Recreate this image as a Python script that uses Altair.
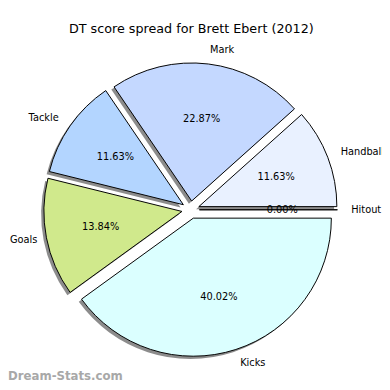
import altair as alt
import pandas as pd

categories = ["Hitout", "Handball", "Mark", "Tackle", "Goals", "Kicks"]
percentages = [0.00, 11.63, 22.87, 11.63, 13.84, 40.02]
colors = ["#f4f4f4", "#e9f1ff", "#c4d8ff", "#b3d5ff", "#d0e98c", "#dbffff"]
title_text = "DT score spread for Brett Ebert (2012)"
watermark = "Dream-Stats.com"

# layout constants (plot-area pixels)
CX, CY, R, D = 186.5, 202.0, 141.0, 9.0
SHX, SHY = -2.8, 2.8
FONT = "DejaVu Sans"

df = pd.DataFrame({"category": categories, "value": percentages,
                   "order": list(range(len(categories)))})

base = (
    alt.Chart(df)
    .transform_window(cum="sum(value)", sort=[{"field": "order"}], frame=[None, 0])
    .transform_joinaggregate(total="sum(value)")
    .transform_calculate(a0="2*PI*(datum.cum - datum.value)/datum.total")
    .transform_calculate(a1="2*PI*datum.cum/datum.total")
    .transform_calculate(mid="(datum.a0 + datum.a1)/2")
    .transform_calculate(t1="2.5*PI - datum.a1")
    .transform_calculate(t2="2.5*PI - datum.a0")
    .transform_calculate(ex=f"{CX} + {D}*cos(datum.mid)")
    .transform_calculate(ey=f"{CY} - {D}*sin(datum.mid)")
    .transform_calculate(sx=f"datum.ex + {SHX}")
    .transform_calculate(sy=f"datum.ey + {SHY}")
    .transform_calculate(lx=f"datum.ex + {1.1 * R}*cos(datum.mid)")
    .transform_calculate(ly=f"datum.ey - {1.1 * R}*sin(datum.mid)")
    .transform_calculate(lxl="max(datum.lx, 30)")
    .transform_calculate(px=f"datum.ex + {0.6 * R}*cos(datum.mid)")
    .transform_calculate(py=f"datum.ey - {0.6 * R}*sin(datum.mid)")
    .transform_calculate(pct="format(datum.value, '.2f') + '%'")
    .transform_calculate(side="cos(datum.mid) >= 0 ? 'r' : 'l'")
)

shadow = base.mark_arc(radius=R, fill="#000000", fillOpacity=0.45, strokeWidth=0).encode(
    x=alt.X("sx:Q", scale=None),
    y=alt.Y("sy:Q", scale=None),
    theta=alt.Theta("t1:Q", scale=None),
    theta2=alt.Theta2("t2:Q"),
)

wedges = base.mark_arc(radius=R, stroke="#000000", strokeWidth=1).encode(
    x=alt.X("ex:Q", scale=None),
    y=alt.Y("ey:Q", scale=None),
    theta=alt.Theta("t1:Q", scale=None),
    theta2=alt.Theta2("t2:Q"),
    color=alt.Color("category:N", scale=alt.Scale(domain=categories, range=colors), legend=None),
)

pcts = base.mark_text(font=FONT, fontSize=10, color="#000000", align="center", baseline="middle").encode(
    x=alt.X("px:Q", scale=None),
    y=alt.Y("py:Q", scale=None),
    text="pct:N",
)

labels_r = base.transform_filter("datum.side == 'r'").mark_text(
    font=FONT, fontSize=10, color="#000000", align="left", baseline="middle"
).encode(x=alt.X("lx:Q", scale=None), y=alt.Y("ly:Q", scale=None), text="category:N")

labels_l = base.transform_filter("datum.side == 'l'").mark_text(
    font=FONT, fontSize=10, color="#000000", align="right", baseline="middle"
).encode(x=alt.X("lxl:Q", scale=None), y=alt.Y("ly:Q", scale=None), text="category:N")

title = alt.Chart(pd.DataFrame({"t": [title_text]})).mark_text(
    font=FONT, fontSize=13, color="#000000", align="center", baseline="alphabetic"
).encode(x=alt.value(187.3), y=alt.value(21.5), text="t:N")

wm = alt.Chart(pd.DataFrame({"t": [watermark]})).mark_text(
    font=FONT, fontSize=12, fontWeight="bold", color="#a8a8a8", align="left", baseline="alphabetic"
).encode(x=alt.value(0), y=alt.value(376), text="t:N")

chart = (
    alt.layer(shadow, wedges, pcts, labels_r, labels_l, title, wm)
    .properties(width=382, height=382, padding=0, autosize="none")
    .configure_view(stroke=None)
)

chart.save("out.html", embed_options={"renderer": "svg", "actions": False})
